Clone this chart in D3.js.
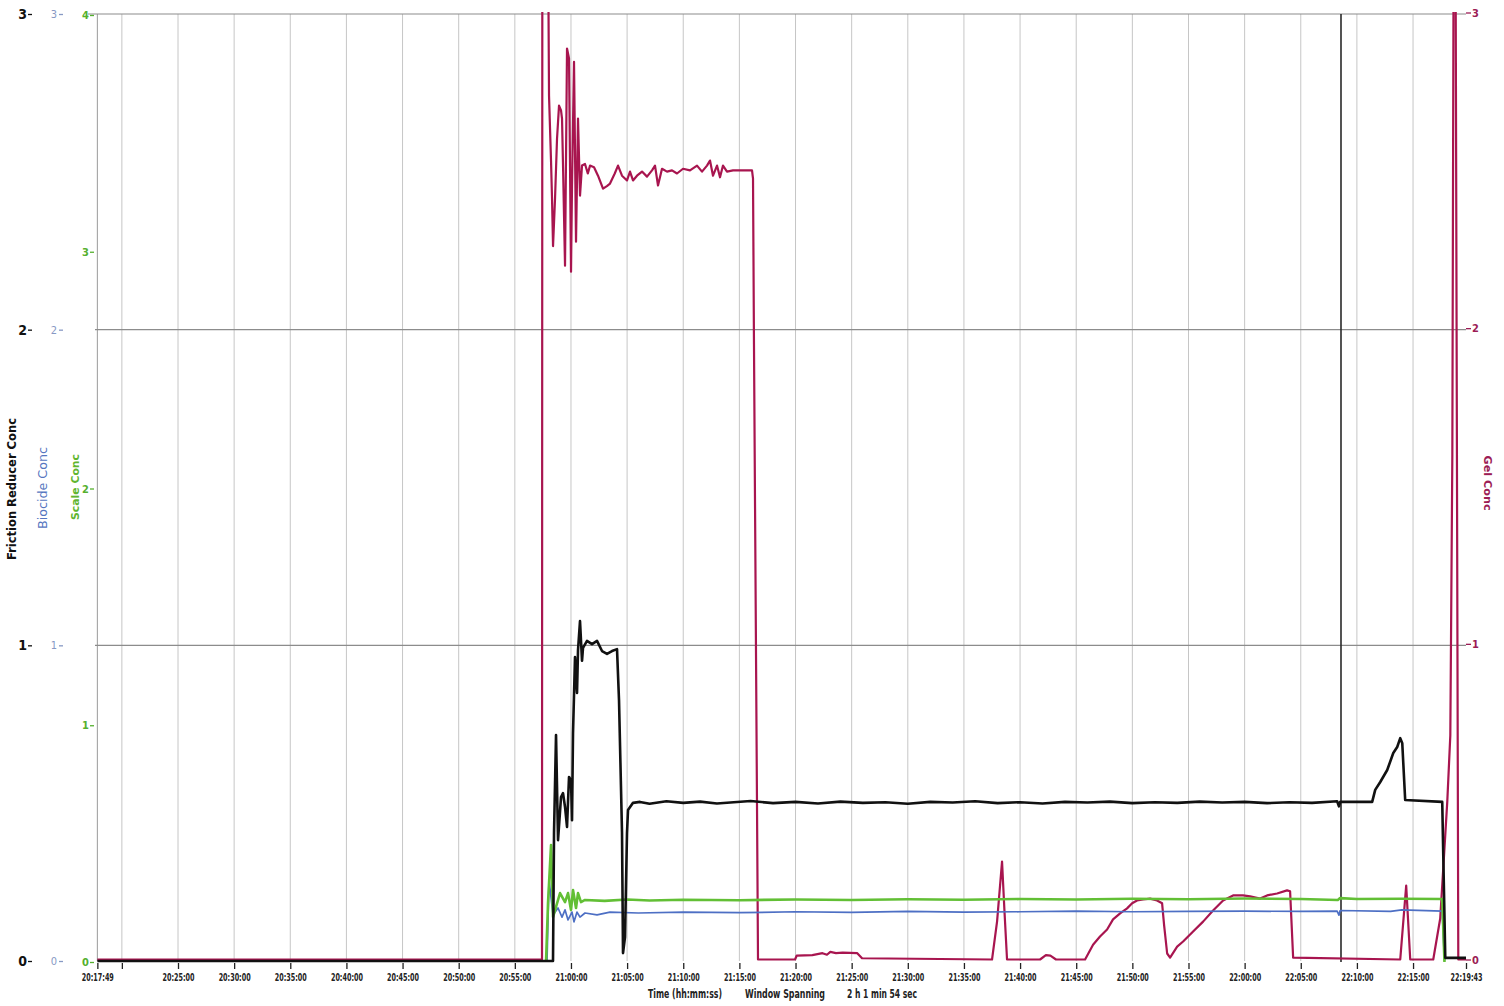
<!DOCTYPE html>
<html><head><meta charset="utf-8">
<script src="https://cdn.jsdelivr.net/npm/d3@7"></script>
<style>body{margin:0;background:#fff}svg{display:block;background:#fff}</style>
</head><body><svg id="c" width="1504" height="1006"></svg>
<script>
// ---- tick labels / axes values ----
const timeTickLabels = ["20:17:49","20:20:00","20:25:00","20:30:00","20:35:00","20:40:00","20:45:00","20:50:00","20:55:00",
  "21:00:00","21:05:00","21:10:00","21:15:00","21:20:00","21:25:00","21:30:00","21:35:00","21:40:00","21:45:00",
  "21:50:00","21:55:00","22:00:00","22:05:00","22:10:00","22:15:00","22:19:43"];
const hiddenTickLabels = ["20:20:00"];
const markerTime = "22:08:35";
const frTicks = [0,1,2,3];
const biocideTicks = [0,1,2,3];
const scaleTicks = [0,1,2,3,4];
const gelTicks = [0,1,2,3];

// ---- series: [minutes after 20:00:00, value] ----
const frictionReducer = [[17.817,0],[58.40,0],[58.491,0.407],[58.669,0.716],[58.847,0.383],[59.114,0.519],[59.292,0.532],[59.47,0.488],
 [59.648,0.425],[59.826,0.583],[60.004,0.573],[60.093,0.446],[60.182,0.722],[60.36,0.963],[60.538,0.849],[60.627,0.985],[60.805,1.077],
 [60.983,0.951],[61.072,0.992],[61.428,1.014],[61.875,1.004],[62.32,1.014],[62.766,0.982],[63.211,0.973],[63.656,0.982],[64.101,0.988],
 [64.279,0.827],[64.546,0.406],[64.635,0.025],[64.813,0.076],[64.991,0.406],[65.08,0.478],[65.526,0.501],[66.149,0.504],
 [67,0.498],[68.5,0.506],[70,0.501],[71.5,0.505],[73,0.499],[74.5,0.503],[76,0.507],[78,0.5],[80,0.504],[82,0.499],[84,0.505],
 [86,0.501],[88,0.503],[90,0.498],[92,0.504],[94,0.502],[96,0.506],[98,0.5],[100,0.503],[102,0.499],[104,0.504],[106,0.502],
 [108,0.505],[110,0.5],[112,0.503],[114,0.501],[116,0.505],[118,0.502],[120,0.504],[122,0.5],[124,0.503],[126,0.501],
 [128.24,0.506],[128.4,0.49],[128.51,0.504],[131.36,0.504],[131.63,0.542],[132.08,0.567],[132.7,0.605],[133.24,0.659],
 [133.59,0.678],[133.86,0.706],[134.04,0.69],[134.3,0.51],[137.6,0.504],[137.87,0.01],[139.717,0.01]];

const biocide = [[57.867,0],[58.045,0.257],[58.402,0.146],[58.847,0.168],[59.203,0.139],[59.47,0.162],[59.737,0.13],[60.093,0.155],
 [60.271,0.124],[60.538,0.155],[60.805,0.139],[61.25,0.152],[62.32,0.146],[63.478,0.155],[66,0.152],[70,0.155],[75,0.153],[80,0.156],
 [85,0.154],[90,0.157],[95,0.155],[100,0.156],[105,0.158],[110,0.156],[115,0.157],[120,0.158],[125,0.157],[128.24,0.158],
 [128.4,0.145],[128.51,0.16],[133,0.157],[134,0.162],[137.6,0.158],[137.8,0]];

const scaleConc = [[57.778,0],[57.956,0.25],[58.224,0.494],[58.402,0.19],[59.025,0.291],[59.47,0.253],[59.737,0.291],[60.004,0.22],
 [60.182,0.304],[60.449,0.228],[60.627,0.291],[60.894,0.253],[61.25,0.262],[63,0.258],[65,0.264],[67,0.26],[70,0.263],[75,0.261],
 [80,0.264],[85,0.262],[90,0.265],[95,0.263],[100,0.266],[105,0.264],[110,0.267],[115,0.265],[120,0.268],[125,0.266],[128.3,0.262],
 [128.5,0.27],[130,0.266],[134,0.267],[137.6,0.266],[137.8,0]];

const gelConc = [[17.817,0],[57.42,0],[57.45,3.3],[57.95,3.3],[58.045,2.737],[58.224,2.53],[58.313,2.41],[58.402,2.26],[58.58,2.41],
 [58.758,2.60],[58.936,2.705],[59.114,2.69],[59.203,2.664],[59.292,2.515],[59.47,2.198],[59.648,2.886],[59.737,2.87],[59.826,2.854],
 [60.004,2.179],[60.093,2.452],[60.271,2.844],[60.449,2.274],[60.627,2.664],[60.805,2.42],[60.983,2.515],[61.25,2.52],[61.5,2.49],
 [61.697,2.515],[62.053,2.51],[62.409,2.483],[62.855,2.442],[63.2,2.45],[63.478,2.458],[63.9,2.49],[64.19,2.515],[64.546,2.483],
 [64.991,2.468],[65.258,2.496],[65.526,2.468],[65.882,2.483],[66.327,2.496],[66.772,2.48],[67.218,2.50],[67.485,2.515],[67.752,2.452],
 [68.108,2.505],[68.554,2.496],[68.999,2.50],[69.444,2.49],[69.979,2.505],[70.602,2.50],[71.226,2.515],[71.671,2.496],[72.116,2.515],
 [72.383,2.531],[72.651,2.483],[73.007,2.515],[73.274,2.478],[73.541,2.515],[73.898,2.496],[74.432,2.50],[75.323,2.50],[76.125,2.50],
 [76.214,2.474],[76.30,1.95],[76.659,0],[79.957,0],[80.1,0.012],[81.5,0.014],[82.4,0.02],[82.8,0.015],[83.1,0.024],[83.6,0.02],
 [84.2,0.022],[85.5,0.02],[85.925,0.004],[97.503,0],[97.95,0.12],[98.394,0.31],[98.6,0.16],[98.839,0],[101.78,0],[102.3,0.014],
 [102.7,0.012],[103.2,0],[105.79,0],[106.5,0.047],[107.12,0.073],[107.75,0.095],[108.28,0.127],[108.91,0.146],[109.53,0.162],
 [109.98,0.178],[110.42,0.187],[110.96,0.19],[111.58,0.193],[112.2,0.187],[112.65,0.178],[112.83,0.108],[113.1,0.019],[113.36,0.006],
 [113.99,0.041],[114.52,0.057],[115.41,0.089],[116.3,0.12],[117.19,0.155],[118.08,0.187],[118.97,0.203],[119.86,0.203],[120.49,0.2],
 [121.38,0.193],[122.0,0.203],[122.89,0.209],[123.78,0.219],[124.05,0.216],[124.32,0.006],[133.86,0],[134.39,0.234],[134.75,0],
 [136.8,0],[137.42,0.13],[137.69,0.288],[138.05,0.501],[138.32,0.71],[138.5,1.6],[138.62,3.3],[138.78,3.3],[139.03,0],[139.717,0]];

// ---- drawing ----
const toMin = s => { const p = s.split(":").map(Number); return (p[0]-20)*60 + p[1] + p[2]/60; };
const tickTimes = timeTickLabels.map(toMin);
const svg = d3.select("#c");
const FONT = "'Liberation Sans Narrow','DejaVu Sans Condensed','Liberation Sans',sans-serif";

const x = d3.scaleLinear().domain([tickTimes[0], tickTimes[tickTimes.length-1]]).range([97.35, 1466]);
const yFR = d3.scaleLinear().domain([0,3]).range([961,14]);
const yBio = d3.scaleLinear().domain([0,3]).range([961,14]);
const ySc = d3.scaleLinear().domain([0,4]).range([962,15]);
const yGel = d3.scaleLinear().domain([0,3]).range([959.5,12.5]);

svg.append("defs").append("clipPath").attr("id","plot").append("rect")
  .attr("x",97).attr("y",12).attr("width",1369).attr("height",952);

// vertical grid
const grid = svg.append("g");
grid.selectAll("line.v").data(tickTimes.slice(1,-1)).join("line").attr("class","v")
  .attr("x1",d=>x(d)).attr("x2",d=>x(d)).attr("y1",yFR(3)).attr("y2",yFR(0))
  .attr("stroke","#c6c6c6").attr("stroke-width",1);
grid.append("line").attr("x1",x(tickTimes[0])).attr("x2",x(tickTimes[0])).attr("y1",yFR(3)).attr("y2",yFR(0))
  .attr("stroke","#9a9a9a").attr("stroke-width",1);
// horizontal grid
grid.selectAll("line.h").data(frTicks.slice(1)).join("line").attr("class","h")
  .attr("x1",d=>d===3?88:95).attr("x2",1466).attr("y1",d=>yFR(d)).attr("y2",d=>yFR(d))
  .attr("stroke","#8c8c8c").attr("stroke-width",1.2);

// marker line
svg.append("line").attr("x1",x(toMin(markerTime))).attr("x2",x(toMin(markerTime)))
  .attr("y1",yFR(3)).attr("y2",yFR(0)+1).attr("stroke","#2a2a2a").attr("stroke-width",1.6);

const plot = svg.append("g").attr("clip-path","url(#plot)");
const mk = ys => d3.line().x(d=>x(d[0])).y(d=>ys(d[1]));
plot.append("path").datum(gelConc).attr("d",mk(yGel)).attr("fill","none")
  .attr("stroke","#a8154f").attr("stroke-width",2.2).attr("stroke-linejoin","round");
plot.append("path").datum(biocide).attr("d",mk(yBio)).attr("fill","none")
  .attr("stroke","#4d6fc4").attr("stroke-width",1.7).attr("stroke-linejoin","round");
plot.append("path").datum(scaleConc).attr("d",mk(ySc)).attr("fill","none")
  .attr("stroke","#62bf35").attr("stroke-width",2.6).attr("stroke-linejoin","round");
plot.append("path").datum(frictionReducer).attr("d",mk(yFR)).attr("fill","none")
  .attr("stroke","#111").attr("stroke-width",2.6).attr("stroke-linejoin","round");

// axes
function styleAxis(g, color, size, weight){
  g.select(".domain").remove();
  g.selectAll(".tick line").attr("stroke",color).attr("stroke-width",1.3);
  g.selectAll(".tick text").attr("fill",color).style("font-family",FONT).style("font-size",size+"px").style("font-weight",weight);
}
svg.append("g").attr("transform","translate(32,0)")
  .call(d3.axisLeft(yFR).tickValues(frTicks).tickSize(4).tickPadding(1).tickFormat(d3.format("d")))
  .call(g=>styleAxis(g,"#111",14,"bold"));
svg.append("g").attr("transform","translate(63,0)")
  .call(d3.axisLeft(yBio).tickValues(biocideTicks).tickSize(4).tickPadding(2).tickFormat(d3.format("d")))
  .call(g=>styleAxis(g,"#8799c4",11,"normal"));
svg.append("g").attr("transform","translate(94,0)")
  .call(d3.axisLeft(ySc).tickValues(scaleTicks).tickSize(4).tickPadding(1).tickFormat(d3.format("d")))
  .call(g=>styleAxis(g,"#55b02e",11,"bold"));
svg.append("g").attr("transform","translate(1466,0)")
  .call(d3.axisRight(yGel).tickValues(gelTicks).tickSize(5).tickPadding(1).tickFormat(d3.format("d")))
  .call(g=>styleAxis(g,"#9c1c55",11,"bold"));

svg.append("g").attr("transform","translate(0,963)")
  .call(d3.axisBottom(x).tickValues(tickTimes).tickSize(6).tickPadding(4)
    .tickFormat((d,i)=> hiddenTickLabels.includes(timeTickLabels[i]) ? "" : timeTickLabels[i]))
  .call(g=>{
    styleAxis(g,"#222",11,"bold");
    g.selectAll(".tick text").filter(function(){return this.textContent!=="";})
      .attr("textLength",32).attr("lengthAdjust","spacingAndGlyphs");
  });

// titles
const t = (txt,xx,yy,rot,color,size,weight,len) => svg.append("text")
  .attr("transform",`translate(${xx},${yy}) rotate(${rot})`).attr("text-anchor","middle")
  .attr("fill",color).style("font-family",FONT).style("font-size",size+"px").style("font-weight",weight)
  .attr("textLength",len).attr("lengthAdjust","spacingAndGlyphs").text(txt);
t("Friction Reducer Conc",16,489,-90,"#111",12,"bold",142);
t("Biocide Conc",47,488,-90,"#5676c0",11.5,"normal",82);
t("Scale Conc",79,487,-90,"#5fb52f",10.5,"bold",66);
t("Gel Conc",1484,483,90,"#9c1c55",10.5,"bold",55);

const b = (txt,xx,len) => svg.append("text").attr("x",xx).attr("y",998).attr("text-anchor","middle")
  .attr("fill","#222").style("font-family",FONT).style("font-size","12px").style("font-weight","bold")
  .attr("textLength",len).attr("lengthAdjust","spacingAndGlyphs").text(txt);
b("Time (hh:mm:ss)",685,74);
b("Window Spanning",785,80);
b("2 h 1 min 54 sec",882,70);
</script>
</body></html>
